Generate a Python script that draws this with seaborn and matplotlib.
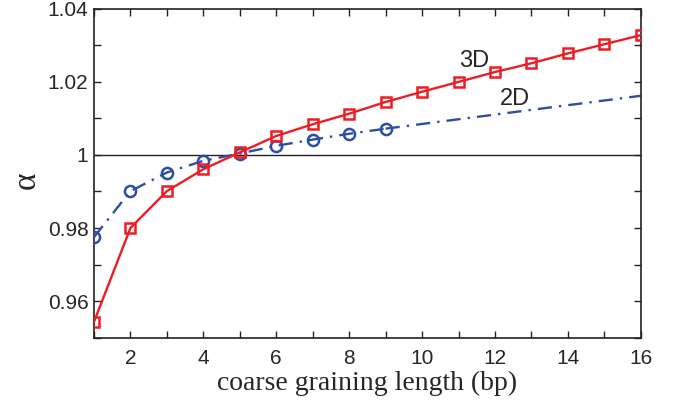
import numpy as np
import pandas as pd
import matplotlib
matplotlib.use("Agg")
import matplotlib.pyplot as plt
import seaborn as sns
from matplotlib.ticker import MultipleLocator

# coarse graining length (bp)
length_3d = [1, 2, 3, 4, 5, 6, 7, 8, 9, 10, 11, 12, 13, 14, 15, 16]
alpha_3d = [0.9543, 0.9800, 0.9901, 0.9961, 1.0007, 1.0052, 1.0084, 1.0113,
            1.0145, 1.0173, 1.0200, 1.0227, 1.0251, 1.0278, 1.0303, 1.0328]

length_2d = [1, 2, 3, 4, 5, 6, 7, 8, 9]
alpha_2d = [0.9775, 0.9901, 0.9952, 0.9984, 1.0004, 1.0025, 1.0042, 1.0058, 1.0072]

# unmarked continuation of the 2D curve
length_2d_ext = [9, 16]
alpha_2d_ext = [1.0072, 1.0162]

df3 = pd.DataFrame({"L": length_3d, "alpha": alpha_3d})
df2 = pd.DataFrame({"L": length_2d, "alpha": alpha_2d})
df2e = pd.DataFrame({"L": length_2d_ext, "alpha": alpha_2d_ext})

sns.set_style("ticks")
plt.rcParams["font.family"] = ["Liberation Sans", "DejaVu Sans"]
SERIF = ["Liberation Serif", "DejaVu Serif"]

RED = "#ee1c25"
BLUE = "#2c4ea3"

fig = plt.figure(figsize=(6.76, 4.01), dpi=100)
ax = fig.add_axes([0.139, 0.158, 0.809, 0.820])

ax.axhline(1.0, color="#222222", lw=1.0, zorder=1)

dashdot = (0, (6, 3, 1, 3))
sns.lineplot(data=df2e, x="L", y="alpha", ax=ax, color=BLUE, lw=1.7,
             linestyle=dashdot, zorder=2)
sns.lineplot(data=df2, x="L", y="alpha", ax=ax, color=BLUE, lw=1.7,
             marker="o", markersize=8, markerfacecolor="none",
             markeredgecolor=BLUE, markeredgewidth=1.8, zorder=3)
ax.lines[-1].set_linestyle(dashdot)
sns.lineplot(data=df3, x="L", y="alpha", ax=ax, color=RED, lw=1.7,
             marker="s", markersize=6.5, markerfacecolor="none",
             markeredgecolor=RED, markeredgewidth=1.8, zorder=4)

ax.set_xlim(1, 16)
ax.set_ylim(0.95, 1.04)
ax.xaxis.set_minor_locator(MultipleLocator(1))
ax.yaxis.set_minor_locator(MultipleLocator(0.01))
ax.set_xticks([2, 4, 6, 8, 10, 12, 14, 16])
ax.set_yticks([0.96, 0.98, 1.0, 1.02, 1.04])
ax.set_yticklabels(["0.96", "0.98", "1", "1.02", "1.04"])
ax.tick_params(which="both", direction="in", top=True, right=True,
               length=5, width=1.0, labelsize=15, color="#222222")
ax.tick_params(axis="x", pad=8)
ax.tick_params(axis="y", pad=4)
for s in ax.spines.values():
    s.set_linewidth(1.2)
    s.set_color("#222222")

ax.set_xlabel("coarse graining length (bp)", fontsize=20, family=SERIF,
              labelpad=2)
ax.set_ylabel("α", fontsize=24, family=SERIF, labelpad=6)
ax.yaxis.set_label_coords(-0.095, 0.48)

ax.text(11.43, 1.0258, "3D", fontsize=17, ha="center", va="center")
ax.text(12.56, 1.0153, "2D", fontsize=17, ha="center", va="center")

fig.savefig("out.png", dpi=100)
